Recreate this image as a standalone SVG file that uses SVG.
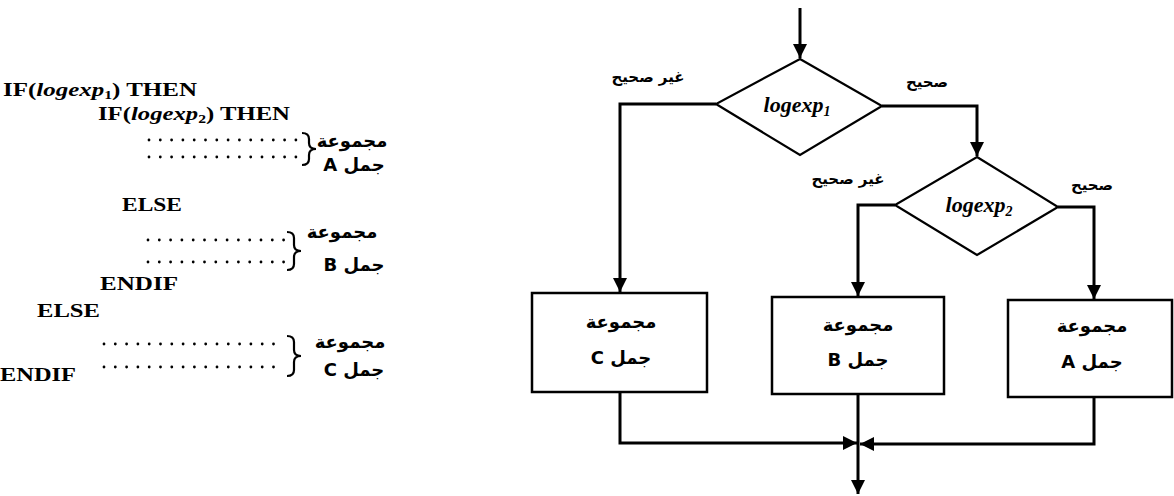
<svg xmlns="http://www.w3.org/2000/svg" width="1174" height="496" viewBox="0 0 1174 496">
<defs>
<style>
.code{font-family:"Liberation Serif",serif;font-weight:bold;font-size:19px;fill:#000}
.it{font-style:italic}
.ar{font-family:"DejaVu Sans",sans-serif;font-weight:bold;font-size:18px;fill:#000;direction:rtl;unicode-bidi:embed;text-anchor:middle}
.lbl{font-family:"DejaVu Sans",sans-serif;font-weight:bold;font-size:15px;fill:#000;direction:rtl;unicode-bidi:embed;text-anchor:middle}
.lg{font-family:"Liberation Serif",serif;font-weight:bold;font-style:italic;font-size:22px;fill:#000;text-anchor:middle}
.dots{stroke:#000;stroke-width:2.8;stroke-linecap:round;stroke-dasharray:0 11.3;fill:none}
.brace{stroke:#000;stroke-width:2.2;fill:none}
.box{fill:#fff;stroke:#000;stroke-width:2.5}
.dia{fill:#fff;stroke:#000;stroke-width:2.2}
.con{fill:none;stroke:#000;stroke-width:3}
</style>
<marker id="ah" viewBox="0 0 10 10" refX="10" refY="5" markerWidth="4.8" markerHeight="4.8" orient="auto" markerUnits="strokeWidth">
<path d="M0,0 L10,5 L0,10 z" fill="#000"/>
</marker>
</defs>
<rect width="1174" height="496" fill="#fff"/>

<g id="code">
<text class="code" x="3" y="96" textLength="194" lengthAdjust="spacingAndGlyphs">IF(<tspan class="it">logexp</tspan><tspan font-size="12" dy="3">1</tspan><tspan dy="-3">) THEN</tspan></text>
<text class="code" x="98" y="120" textLength="192" lengthAdjust="spacingAndGlyphs">IF(<tspan class="it">logexp</tspan><tspan font-size="12" dy="3">2</tspan><tspan dy="-3">) THEN</tspan></text>
<text class="code" x="122" y="211" textLength="60" lengthAdjust="spacingAndGlyphs">ELSE</text>
<text class="code" x="100" y="290" textLength="78" lengthAdjust="spacingAndGlyphs">ENDIF</text>
<text class="code" x="37" y="317" textLength="63" lengthAdjust="spacingAndGlyphs">ELSE</text>
<text class="code" x="0" y="381" textLength="76" lengthAdjust="spacingAndGlyphs">ENDIF</text>
</g>

<g id="groupA-text">
<path class="dots" d="M149,140 H300"/>
<path class="dots" d="M149,157 H300"/>
<path class="brace" d="M302,133 Q309,133 309,139 V143 Q309,149 316,149 Q309,149 309,155 V159 Q309,165 302,165"/>
<text class="ar" x="352" y="147">مجموعة</text>
<text class="ar" x="354" y="171">جمل A</text>
</g>

<g id="groupB-text">
<path class="dots" d="M148,240 H284"/>
<path class="dots" d="M148,262 H284"/>
<path class="brace" d="M287,232 Q294,232 294,238 V245 Q294,251 301,251 Q294,251 294,257 V264 Q294,270 287,270"/>
<text class="ar" x="342" y="238">مجموعة</text>
<text class="ar" x="354" y="271">جمل B</text>
</g>

<g id="groupC-text">
<path class="dots" d="M104,344 H282"/>
<path class="dots" d="M104,367 H282"/>
<path class="brace" d="M287,336 Q294,336 294,342 V350 Q294,356 301,356 Q294,356 294,362 V370 Q294,376 287,376"/>
<text class="ar" x="350" y="348">مجموعة</text>
<text class="ar" x="354" y="376">جمل C</text>
</g>

<g id="connectors">
<path class="con" d="M800,8 V58" marker-end="url(#ah)"/>
<path class="con" d="M716,104 H620 V292" marker-end="url(#ah)"/>
<path class="con" d="M882,106 H977 V156" marker-end="url(#ah)"/>
<path class="con" d="M895,205 H858 V296" marker-end="url(#ah)"/>
<path class="con" d="M1058,207 H1094 V299" marker-end="url(#ah)"/>
<path class="con" d="M620,392 V443 H857" marker-end="url(#ah)"/>
<path class="con" d="M1094,397 V444 H860" marker-end="url(#ah)"/>
<path class="con" d="M858,394 V494" marker-end="url(#ah)"/>
</g>

<g id="labels">
<text class="lbl" x="648" y="82">غير صحيح</text>
<text class="lbl" x="927" y="87">صحيح</text>
<text class="lbl" x="848" y="184">غير صحيح</text>
<text class="lbl" x="1092" y="190">صحيح</text>
</g>

<g id="decision1">
<polygon class="dia" points="800,59 882,106 800,155 716,104"/>
<text class="lg" x="797" y="112">logexp<tspan font-size="14" dy="4">1</tspan></text>
</g>

<g id="decision2">
<polygon class="dia" points="977,157 1058,207 977,255 895,205"/>
<text class="lg" x="979" y="212">logexp<tspan font-size="14" dy="4">2</tspan></text>
</g>

<g id="boxC">
<rect class="box" x="532" y="293" width="175" height="99"/>
<text class="ar" x="621" y="328">مجموعة</text>
<text class="ar" x="621" y="364">جمل C</text>
</g>

<g id="boxB">
<rect class="box" x="772" y="297" width="172" height="97"/>
<text class="ar" x="858" y="331">مجموعة</text>
<text class="ar" x="858" y="366">جمل B</text>
</g>

<g id="boxA">
<rect class="box" x="1008" y="300" width="164" height="97"/>
<text class="ar" x="1092" y="332">مجموعة</text>
<text class="ar" x="1092" y="368">جمل A</text>
</g>
</svg>
